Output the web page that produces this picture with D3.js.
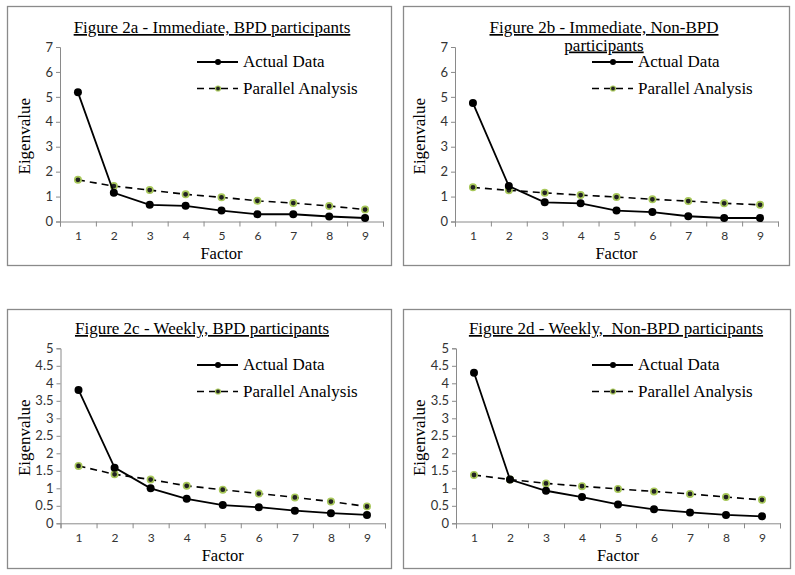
<!DOCTYPE html>
<html>
<head>
<meta charset="utf-8">
<script src="https://cdn.jsdelivr.net/npm/d3@7"></script>
<style>
  body { margin: 0; background: #fff; }
  svg { display: block; }
</style>
</head>
<body>
<div id="chart"></div>
<script>
// factor numbers on the x axis
let factors = [1, 2, 3, 4, 5, 6, 7, 8, 9];

// Figure 2a - Immediate, BPD
let actualA = [5.18, 1.15, 0.67, 0.63, 0.44, 0.29, 0.29, 0.2, 0.14];
let parallelA = [1.67, 1.42, 1.26, 1.09, 0.97, 0.83, 0.74, 0.62, 0.48];
// Figure 2b - Immediate, Non-BPD
let actualB = [4.75, 1.42, 0.77, 0.73, 0.44, 0.38, 0.21, 0.14, 0.14];
let parallelB = [1.37, 1.25, 1.15, 1.06, 0.98, 0.89, 0.82, 0.73, 0.67];
// Figure 2c - Weekly, BPD
let actualC = [3.81, 1.59, 1.0, 0.7, 0.52, 0.46, 0.36, 0.29, 0.24];
let parallelC = [1.64, 1.4, 1.25, 1.07, 0.96, 0.85, 0.74, 0.62, 0.48];
// Figure 2d - Weekly, Non-BPD
let actualD = [4.3, 1.25, 0.93, 0.75, 0.54, 0.4, 0.31, 0.24, 0.2];
let parallelD = [1.38, 1.25, 1.14, 1.06, 0.98, 0.91, 0.84, 0.75, 0.67];

let ticksImmediate = [0, 1, 2, 3, 4, 5, 6, 7];
let ticksWeekly = [0, 0.5, 1, 1.5, 2, 2.5, 3, 3.5, 4, 4.5, 5];

let legendNames = ["Actual Data", "Parallel Analysis"];

let width = 795;
let height = 575;

let svg = d3.select("#chart")
    .append("svg")
    .attr("width", width)
    .attr("height", height);

const serif = "'Liberation Serif', 'Times New Roman', serif";
const sans = "Lato, Calibri, 'Open Sans', sans-serif";
const axisColor = "#8a8a8a";

const panels = [
    { title: ["Figure 2a - Immediate, BPD participants"], actual: actualA, parallel: parallelA, ticks: ticksImmediate,
      frame: [7, 6, 384, 259], plot: [60, 47, 383, 221.5], titleX: 212, titleY: 33, legendX: 197, legendY: 62, eigX: 24, factorY: 259 },
    { title: ["Figure 2b - Immediate, Non-BPD", "participants"], actual: actualB, parallel: parallelB, ticks: ticksImmediate,
      frame: [403, 6, 386, 259], plot: [455, 47, 778, 221.5], titleX: 604, titleY: 33, legendX: 592, legendY: 62, eigX: 419, factorY: 259 },
    { title: ["Figure 2c - Weekly, BPD participants"], actual: actualC, parallel: parallelC, ticks: ticksWeekly,
      frame: [7, 309, 384, 259], plot: [60.5, 348.3, 385, 523.3], titleX: 202, titleY: 334, legendX: 197, legendY: 365, eigX: 24, factorY: 561 },
    { title: ["Figure 2d - Weekly,  Non-BPD participants"], actual: actualD, parallel: parallelD, ticks: ticksWeekly,
      frame: [403, 309, 387, 259], plot: [456, 348.3, 780, 523.3], titleX: 616, titleY: 334, legendX: 592, legendY: 365, eigX: 419, factorY: 561 }
];

const drawPanel = (p) => {
    let g = svg.append("g");

    // outer frame
    g.append("rect")
        .attr("x", p.frame[0] + 0.5).attr("y", p.frame[1] + 0.5)
        .attr("width", p.frame[2]).attr("height", p.frame[3])
        .attr("fill", "#fff")
        .attr("stroke", axisColor)
        .attr("stroke-width", 1.3);

    let [x0, y0, x1, y1] = p.plot;

    let x = d3.scaleLinear().domain([0.5, 9.5]).range([x0, x1]);
    let y = d3.scaleLinear().domain([0, d3.max(p.ticks)]).range([y1, y0]);

    // y axis
    let yAxis = g.append("g")
        .attr("transform", "translate(" + x0 + ",0)")
        .call(d3.axisLeft(y).tickValues(p.ticks).tickSize(4).tickPadding(3)
            .tickFormat(d3.format("~g")));
    yAxis.select(".domain").attr("stroke", axisColor);
    yAxis.selectAll(".tick line").attr("stroke", axisColor);
    yAxis.selectAll("text").attr("font-family", sans).attr("font-size", 13).attr("fill", "#333");

    // x axis: tick marks between categories, labels at categories
    let xTicks = g.append("g")
        .attr("transform", "translate(0," + y1 + ")")
        .call(d3.axisBottom(x).tickValues(d3.range(0.5, 10, 1)).tickSize(5).tickFormat(""));
    xTicks.select(".domain").attr("stroke", axisColor);
    xTicks.selectAll(".tick line").attr("stroke", axisColor);

    let xLabels = g.append("g")
        .attr("transform", "translate(0," + y1 + ")")
        .call(d3.axisBottom(x).tickValues(factors).tickSize(0).tickPadding(10));
    xLabels.select(".domain").remove();
    xLabels.selectAll("text").attr("font-family", sans).attr("font-size", 12).attr("fill", "#333");

    let line = d3.line().x((d, i) => x(factors[i])).y(d => y(d));

    // parallel analysis (dashed)
    g.append("path")
        .datum(p.parallel)
        .attr("d", line)
        .attr("fill", "none")
        .attr("stroke", "#000")
        .attr("stroke-width", 1.6)
        .attr("stroke-dasharray", "7,5");
    g.selectAll(".pdot")
        .data(p.parallel)
        .enter()
        .append("circle")
        .attr("cx", (d, i) => x(factors[i]))
        .attr("cy", d => y(d))
        .attr("r", 3.2)
        .attr("fill", "#222")
        .attr("stroke", "#a8c85a")
        .attr("stroke-width", 1.6);

    // actual data (solid)
    g.append("path")
        .datum(p.actual)
        .attr("d", line)
        .attr("fill", "none")
        .attr("stroke", "#000")
        .attr("stroke-width", 1.8);
    g.selectAll(".adot")
        .data(p.actual)
        .enter()
        .append("circle")
        .attr("cx", (d, i) => x(factors[i]))
        .attr("cy", d => y(d))
        .attr("r", 4)
        .attr("fill", "#000");

    // title
    let title = g.append("text")
        .attr("x", p.titleX)
        .attr("y", p.titleY)
        .attr("text-anchor", "middle")
        .attr("font-family", serif)
        .attr("font-size", 17)
        .style("text-decoration", "underline")
        .style("white-space", "pre");
    p.title.forEach((t, i) => {
        title.append("tspan").attr("x", p.titleX).attr("dy", i == 0 ? 0 : 17.5).text(t);
    });

    // legend
    legendNames.forEach((name, i) => {
        let ly = p.legendY + i * 26.5;
        g.append("line")
            .attr("x1", p.legendX).attr("x2", p.legendX + 41)
            .attr("y1", ly).attr("y2", ly)
            .attr("stroke", "#000")
            .attr("stroke-width", i == 0 ? 1.8 : 1.6)
            .attr("stroke-dasharray", i == 0 ? null : "7,5");
        g.append("circle")
            .attr("cx", p.legendX + 21).attr("cy", ly)
            .attr("r", i == 0 ? 3 : 2.5)
            .attr("fill", i == 0 ? "#000" : "#222")
            .attr("stroke", i == 0 ? "none" : "#a8c85a")
            .attr("stroke-width", 1.2);
        g.append("text")
            .attr("x", p.legendX + 46)
            .attr("y", ly + 5)
            .attr("font-family", serif)
            .attr("font-size", 17)
            .text(name);
    });

    // axis titles
    g.append("text")
        .attr("transform", "translate(" + (p.eigX + 6) + "," + ((y0 + y1) / 2 + 2) + ") rotate(-90)")
        .attr("text-anchor", "middle")
        .attr("font-family", serif)
        .attr("font-size", 17)
        .text("Eigenvalue");
    g.append("text")
        .attr("x", (x0 + x1) / 2)
        .attr("y", p.factorY)
        .attr("text-anchor", "middle")
        .attr("font-family", serif)
        .attr("font-size", 16.5)
        .text("Factor");
};

panels.forEach(drawPanel);
</script>
</body>
</html>
